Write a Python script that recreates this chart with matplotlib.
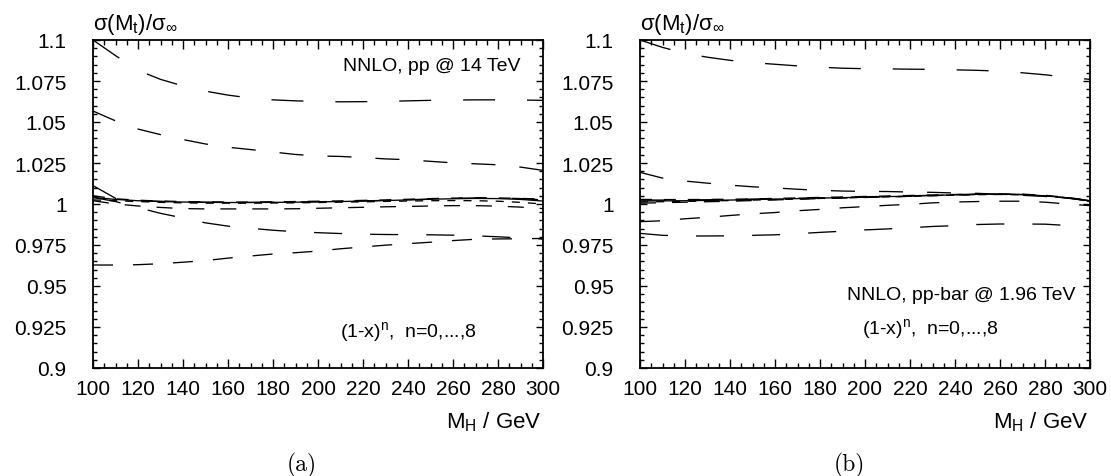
import matplotlib
matplotlib.use("Agg")
import matplotlib.pyplot as plt
from matplotlib.ticker import MultipleLocator, FixedLocator

plt.rcParams['font.family'] = ['Liberation Sans', 'DejaVu Sans']
plt.rcParams['mathtext.fontset'] = 'custom'
plt.rcParams['mathtext.rm'] = 'Liberation Sans'
plt.rcParams['mathtext.it'] = 'Liberation Sans:italic'
plt.rcParams['lines.scale_dashes'] = False

# ---------------- data ----------------
mh = [100, 110, 120, 130, 140, 150, 160, 170, 180, 190, 200,
      210, 220, 230, 240, 250, 260, 270, 280, 290, 300]

# panel (a): NNLO, pp @ 14 TeV
a_n0 = [1.0040, 1.0028, 1.0020, 1.0015, 1.0012, 1.0010, 1.0009, 1.0009, 1.0010, 1.0011, 1.0013,
        1.0015, 1.0018, 1.0021, 1.0025, 1.0029, 1.0032, 1.0034, 1.0033, 1.0028, 1.0018]
a_n1 = [1.0025, 1.0020, 1.0015, 1.0010, 1.0007, 1.0005, 1.0005, 1.0005, 1.0006, 1.0007, 1.0009,
        1.0011, 1.0013, 1.0016, 1.0018, 1.0020, 1.0021, 1.0020, 1.0017, 1.0010, 1.0000]
a_n2 = [1.0050, 1.0032, 1.0023, 1.0018, 1.0015, 1.0013, 1.0012, 1.0012, 1.0013, 1.0015, 1.0017,
        1.0019, 1.0022, 1.0025, 1.0029, 1.0033, 1.0036, 1.0038, 1.0037, 1.0034, 1.0030]
a_n3 = [1.0020, 1.0000, 0.9988, 0.9979, 0.9972, 0.9970, 0.9970, 0.9970, 0.9970, 0.9971, 0.9974,
        0.9977, 0.9980, 0.9983, 0.9985, 0.9988, 0.9990, 0.9990, 0.9987, 0.9981, 0.9972]
a_n4 = [0.9628, 0.9628, 0.9630, 0.9636, 0.9645, 0.9655, 0.9670, 0.9683, 0.9695, 0.9703, 0.9713,
        0.9727, 0.9738, 0.9749, 0.9758, 0.9767, 0.9777, 0.9785, 0.9787, 0.9788, 0.9790]
a_n5 = [1.0112, 1.0035, 1.0022, 1.0016, 1.0013, 1.0011, 1.0010, 1.0010, 1.0011, 1.0012, 1.0014,
        1.0016, 1.0019, 1.0022, 1.0026, 1.0030, 1.0034, 1.0037, 1.0037, 1.0033, 1.0025]
a_n6 = [1.0567, 1.0507, 1.0457, 1.0423, 1.0393, 1.0366, 1.0346, 1.0332, 1.0317, 1.0302, 1.0293,
        1.0290, 1.0283, 1.0275, 1.0270, 1.0260, 1.0251, 1.0245, 1.0239, 1.0225, 1.0205]
a_n7 = [1.0040, 1.0015, 0.9978, 0.9943, 0.9915, 0.9885, 0.9865, 0.9852, 0.9840, 0.9831, 0.9825,
        0.9820, 0.9816, 0.9814, 0.9813, 0.9812, 0.9810, 0.9806, 0.9800, 0.9793, 0.9786]
a_n8 = [1.1000, 1.0905, 1.0815, 1.0760, 1.0720, 1.0688, 1.0664, 1.0646, 1.0635, 1.0629, 1.0625,
        1.0623, 1.0624, 1.0626, 1.0629, 1.0632, 1.0634, 1.0635, 1.0635, 1.0634, 1.0632]

# panel (b): NNLO, pp-bar @ 1.96 TeV
b_n0 = [1.0018, 1.0019, 1.0020, 1.0022, 1.0024, 1.0027, 1.0030, 1.0033, 1.0036, 1.0039, 1.0042,
        1.0045, 1.0048, 1.0052, 1.0056, 1.0059, 1.0060, 1.0057, 1.0050, 1.0037, 1.0018]
b_n1 = [1.0012, 1.0014, 1.0016, 1.0018, 1.0021, 1.0024, 1.0027, 1.0030, 1.0034, 1.0037, 1.0040,
        1.0044, 1.0047, 1.0051, 1.0054, 1.0057, 1.0058, 1.0056, 1.0049, 1.0037, 1.0018]
b_n2 = [1.0028, 1.0027, 1.0027, 1.0028, 1.0029, 1.0031, 1.0034, 1.0037, 1.0040, 1.0043, 1.0046,
        1.0049, 1.0052, 1.0055, 1.0058, 1.0061, 1.0062, 1.0060, 1.0053, 1.0040, 1.0022]
b_n3 = [1.0005, 1.0008, 1.0011, 1.0014, 1.0017, 1.0021, 1.0025, 1.0029, 1.0033, 1.0036, 1.0040,
        1.0043, 1.0047, 1.0051, 1.0055, 1.0058, 1.0059, 1.0056, 1.0049, 1.0036, 1.0016]
b_n4 = [0.9892, 0.9898, 0.9910, 0.9919, 0.9930, 0.9940, 0.9948, 0.9959, 0.9967, 0.9977, 0.9984,
        0.9992, 0.9998, 1.0007, 1.0012, 1.0015, 1.0017, 1.0017, 1.0011, 1.0000, 0.9990]
b_n5 = [1.0024, 1.0024, 1.0025, 1.0026, 1.0028, 1.0030, 1.0032, 1.0035, 1.0038, 1.0041, 1.0044,
        1.0047, 1.0050, 1.0053, 1.0057, 1.0060, 1.0061, 1.0058, 1.0051, 1.0038, 1.0020]
b_n6 = [1.0193, 1.0158, 1.0140, 1.0127, 1.0115, 1.0105, 1.0098, 1.0090, 1.0083, 1.0079, 1.0077,
        1.0076, 1.0073, 1.0071, 1.0067, 1.0065, 1.0059, 1.0053, 1.0046, 1.0035, 1.0020]
b_n7 = [0.9821, 0.9809, 0.9805, 0.9805, 0.9806, 0.9809, 0.9812, 0.9819, 0.9827, 0.9834, 0.9842,
        0.9848, 0.9855, 0.9863, 0.9868, 0.9875, 0.9878, 0.9878, 0.9877, 0.9869, 0.9860]
b_n8 = [1.1000, 1.0955, 1.0918, 1.0895, 1.0876, 1.0862, 1.0852, 1.0842, 1.0834, 1.0828, 1.0825,
        1.0824, 1.0822, 1.0821, 1.0818, 1.0815, 1.0810, 1.0800, 1.0788, 1.0772, 1.0760]

panel_a = [a_n0, a_n1, a_n2, a_n3, a_n4, a_n5, a_n6, a_n7, a_n8]
panel_b = [b_n0, b_n1, b_n2, b_n3, b_n4, b_n5, b_n6, b_n7, b_n8]

yticks = [0.9, 0.925, 0.95, 0.975, 1.0, 1.025, 1.05, 1.075, 1.1]
ytick_labels = ['0.9', '0.925', '0.95', '0.975', '1', '1.025', '1.05', '1.075', '1.1']
xticks = [100, 120, 140, 160, 180, 200, 220, 240, 260, 280, 300]

# ---------------- styles (n = 0..8) ----------------
dash_styles = ['-', (0, (5.8, 5.8)), (0, (8.6, 8.6)), (0, (11.5, 11.5)), (0, (14.4, 14.4)),
               (0, (19.0, 19.0)), (0, (17.3, 17.3)), (0, (20.2, 20.2)), (0, (23.0, 23.0))]

W, H = 1111, 477
fig = plt.figure(figsize=(W / 100, H / 100), dpi=100)
ax_a = fig.add_axes([93 / W, 1 - 369 / H, 450 / W, 328 / H])
ax_b = fig.add_axes([640 / W, 1 - 369 / H, 450 / W, 328 / H])

for ax, curves in ((ax_a, panel_a), (ax_b, panel_b)):
    for vals, ls in zip(curves, dash_styles):
        ax.plot(mh, vals, color='black', lw=0.95, linestyle=ls, solid_capstyle='butt',
                dash_capstyle='butt')
    ax.set_xlim(100, 300)
    ax.set_ylim(0.9, 1.1)
    ax.xaxis.set_major_locator(FixedLocator(xticks))
    ax.xaxis.set_minor_locator(MultipleLocator(5))
    ax.yaxis.set_major_locator(FixedLocator(yticks))
    ax.yaxis.set_minor_locator(MultipleLocator(0.005))
    ax.set_xticklabels([str(v) for v in xticks])
    ax.set_yticklabels(ytick_labels)
    ax.tick_params(which='both', direction='in', top=True, right=True, color='black')
    ax.tick_params(axis='x', which='major', length=6.2, width=1.0, labelsize=15, pad=8)
    ax.tick_params(axis='x', which='minor', length=3.5, width=1.0)
    ax.tick_params(axis='y', which='major', length=5.0, width=1.0, labelsize=15, pad=19)
    ax.tick_params(axis='y', which='minor', length=3.0, width=1.0)
    for sp in ax.spines.values():
        sp.set_linewidth(1.3)
    ax.text(0.0, 1.035, r'σ(M$_{\rm t}$)/σ$_{\rm ∞}$', transform=ax.transAxes,
            ha='left', va='baseline', fontsize=16)
    ax.text(0.997, -0.18, r'M$_{\rm H}$ / GeV', transform=ax.transAxes,
            ha='right', va='baseline', fontsize=16)

ax_a.text(0.949, 0.921, 'NNLO, pp @ 14 TeV', transform=ax_a.transAxes,
          ha='right', va='center', fontsize=14)
ax_a.text(0.549, 0.113, r'(1-x)$^{\rm n}$,  n=0,...,8', transform=ax_a.transAxes,
          ha='left', va='center', fontsize=14)
ax_b.text(0.967, 0.225, 'NNLO, pp-bar @ 1.96 TeV', transform=ax_b.transAxes,
          ha='right', va='center', fontsize=14)
ax_b.text(0.493, 0.122, r'(1-x)$^{\rm n}$,  n=0,...,8', transform=ax_b.transAxes,
          ha='left', va='center', fontsize=14)

fig.text(302 / W, 1 - 465 / H, '(a)', ha='center', va='center', fontsize=17, family='cmr10')
fig.text(849 / W, 1 - 465 / H, '(b)', ha='center', va='center', fontsize=17, family='cmr10')

fig.savefig('out.png', dpi=100)
